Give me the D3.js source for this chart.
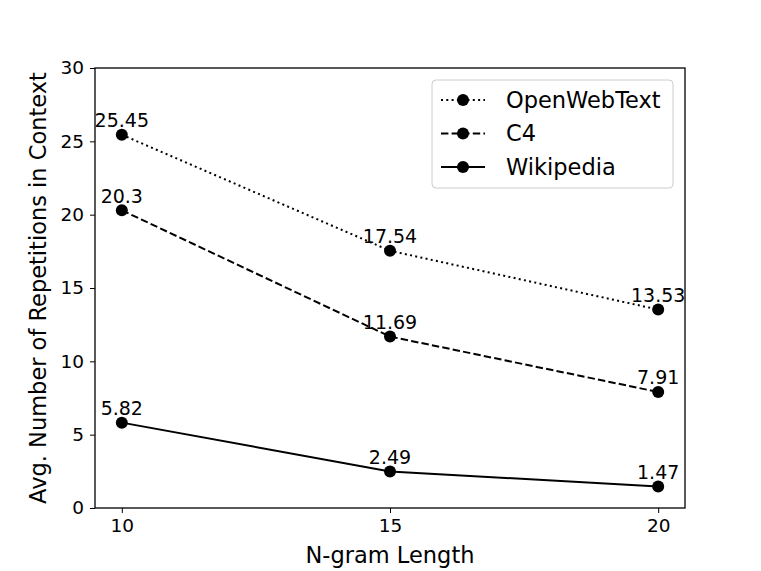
<!DOCTYPE html>
<html><head><meta charset="utf-8">
<script src="https://cdn.jsdelivr.net/npm/d3@7"></script>
<style>body{margin:0;background:#fff}svg{display:block}text{font-family:"DejaVu Sans",sans-serif;fill:#000}</style>
</head><body>
<script>
const ngram = [10, 15, 20];
const seriesNames = ["OpenWebText", "C4", "Wikipedia"];
const openWebText = [25.45, 17.54, 13.53];
const c4 = [20.3, 11.69, 7.91];
const wikipedia = [5.82, 2.49, 1.47];
const yTicks = [0, 5, 10, 15, 20, 25, 30];
const valueLabels = [["25.45","17.54","13.53"],["20.3","11.69","7.91"],["5.82","2.49","1.47"]];

const W = 761, H = 571;
const svg = d3.select("body").append("svg").attr("width", W).attr("height", H);
const L = 95, R = 685, T = 68, B = 508;
const x = d3.scaleLinear().domain([9.5, 20.5]).range([L, R]);
const y = d3.scaleLinear().domain([0, 30]).range([B, T]);

const dashes = ["2,3.3", "7.4,3.2", null];
const data = [openWebText, c4, wikipedia];

const line = d3.line().x((d, i) => x(ngram[i])).y(d => y(d));
data.forEach((vals, s) => {
  svg.append("path").attr("d", line(vals)).attr("fill", "none").attr("stroke", "#000")
    .attr("stroke-width", 2).attr("stroke-dasharray", dashes[s]);
  vals.forEach((v, i) => {
    svg.append("circle").attr("cx", x(ngram[i])).attr("cy", y(v)).attr("r", 6).attr("fill", "#000");
    svg.append("text").attr("x", x(ngram[i])).attr("y", y(v) - 7.5).attr("text-anchor", "middle")
      .attr("font-size", 19).text(valueLabels[s][i]);
  });
});

// axes
const xAxis = d3.axisBottom(x).tickValues(ngram).tickSize(5).tickPadding(6).tickFormat(d3.format("d"));
const yAxis = d3.axisLeft(y).tickValues(yTicks).tickSize(5).tickPadding(6);
const gx = svg.append("g").attr("transform", `translate(0,${B})`).call(xAxis);
const gy = svg.append("g").attr("transform", `translate(${L},0)`).call(yAxis);
[gx, gy].forEach(g => {
  g.select(".domain").remove();
  g.selectAll("text").attr("font-size", 18.5).attr("font-family", "DejaVu Sans");
  g.selectAll("line").attr("stroke", "#000").attr("stroke-width", 1);
});
svg.append("rect").attr("x", L).attr("y", T).attr("width", R - L).attr("height", B - T)
  .attr("fill", "none").attr("stroke", "#000").attr("stroke-width", 1.3);

svg.append("text").attr("x", (L + R) / 2).attr("y", 563).attr("text-anchor", "middle")
  .attr("font-size", 22.5).text("N-gram Length");
svg.append("text").attr("transform", `translate(46,${(T + B) / 2}) rotate(-90)`).attr("text-anchor", "middle")
  .attr("font-size", 22.5).text("Avg. Number of Repetitions in Context");

// legend
const lg = svg.append("g");
lg.append("rect").attr("x", 432).attr("y", 80).attr("width", 241).attr("height", 108).attr("rx", 4)
  .attr("fill", "#fff").attr("fill-opacity", 0.8).attr("stroke", "#ccc").attr("stroke-width", 1);
seriesNames.forEach((n, i) => {
  const yy = 100 + i * 33.5;
  lg.append("line").attr("x1", 441).attr("x2", 485).attr("y1", yy).attr("y2", yy)
    .attr("stroke", "#000").attr("stroke-width", 2).attr("stroke-dasharray", dashes[i]);
  lg.append("circle").attr("cx", 463).attr("cy", yy).attr("r", 6).attr("fill", "#000");
  lg.append("text").attr("x", 506).attr("y", yy + 7.5).attr("font-size", 22.5).text(n);
});
</script>
</body></html>
